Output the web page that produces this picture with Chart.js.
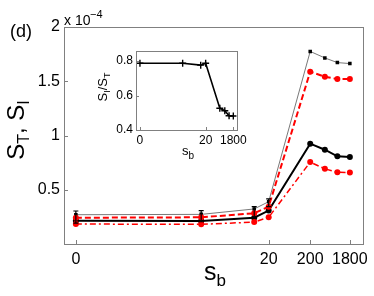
<!DOCTYPE html>
<html><head><meta charset="utf-8">
<script src="https://cdn.jsdelivr.net/npm/chart.js@4"></script>
<style>
html,body{margin:0;padding:0;background:#fff;}
#wrap{position:relative;width:374px;height:296px;overflow:hidden;background:#fff;}
#main{position:absolute;left:0;top:0;}
#inset{position:absolute;left:80px;top:40px;}
</style></head><body>
<div id="wrap"><canvas id="main" width="374" height="296"></canvas><canvas id="inset" width="170" height="125"></canvas></div>
<script>
// ---- data (values in units of 1e-4) ----
const sbValues = [0, 13, 18.5, 20, 200, 450, 900, 1800];
const xTickValues = [0, 20, 200, 1800];
const xTickLabels = ['0', '20', '200', '1800'];
const yTickValues = [0.5, 1, 1.5, 2];
const yTickLabels = ['0.5', '1', '1.5', '2'];
const sTthin = [0.27, 0.273, 0.323, 0.39, 1.775, 1.715, 1.672, 1.663];
const sTred = [0.242, 0.246, 0.283, 0.344, 1.588, 1.542, 1.52, 1.52];
const sIblack = [0.214, 0.212, 0.242, 0.308, 0.925, 0.869, 0.808, 0.801];
const sIred = [0.184, 0.181, 0.202, 0.246, 0.755, 0.693, 0.662, 0.659];
const errLow = [0.193, 0.205, 0.239, 0.344];
const errHigh = [0.304, 0.308, 0.344, 0.415];
const ratio = [0.787, 0.787, 0.776, 0.787, 0.526, 0.512, 0.483, 0.481];
const insetXTickValues = [0, 20, 1800];
const insetXTickLabels = ['0', '20', '1800'];
const insetYTickValues = [0.4, 0.6, 0.8];
const insetYTickLabels = ['0.4', '0.6', '0.8'];

// axis transform: linear up to 20, logarithmic beyond
function tx(s) { return s <= 20 ? s : 20 + 4.31 * Math.log10(s / 20); }

const FONT = 'Liberation Sans, Arial, Helvetica, sans-serif';
const AXC = '#808080';

function pts(vals) { return sbValues.map((s, i) => ({x: tx(s), y: vals[i]})); }

function drawRich(ctx, parts, x, y) {
  let w = 0;
  parts.forEach(p => { ctx.font = p.size + 'px ' + FONT; p.w = ctx.measureText(p.t).width; w += p.w; });
  let cx = x - w / 2;
  ctx.textBaseline = 'alphabetic'; ctx.textAlign = 'left';
  parts.forEach(p => { ctx.font = p.size + 'px ' + FONT; ctx.fillText(p.t, cx, y + (p.dy || 0)); cx += p.w; });
}

function frameAndTicks(chart, tickLen) {
  const {ctx, chartArea: a, scales} = chart;
  ctx.save();
  ctx.strokeStyle = AXC; ctx.lineWidth = 1;
  ctx.strokeRect(Math.round(a.left) + 0.5, Math.round(a.top) + 0.5, Math.round(a.right - a.left), Math.round(a.bottom - a.top));
  ctx.beginPath();
  scales.x.ticks.forEach(t => { const px = Math.round(scales.x.getPixelForValue(t.value)) + 0.5; ctx.moveTo(px, a.bottom); ctx.lineTo(px, a.bottom - tickLen); });
  scales.y.ticks.forEach(t => { const py = Math.round(scales.y.getPixelForValue(t.value)) + 0.5; ctx.moveTo(a.left, py); ctx.lineTo(a.left + tickLen, py); });
  ctx.stroke();
  ctx.restore();
}

const mainPlugin = {
  id: 'mainDeco',
  beforeDraw(chart) { const c = chart.ctx; c.save(); c.fillStyle = '#fff'; c.fillRect(0, 0, chart.width, chart.height); c.restore(); },
  afterDatasetsDraw(chart) {
    const {ctx, scales} = chart;
    ctx.save(); ctx.strokeStyle = '#000'; ctx.lineWidth = 1.2;
    errLow.forEach((lo, i) => {
      const px = scales.x.getPixelForValue(tx(sbValues[i]));
      const y1 = scales.y.getPixelForValue(lo), y2 = scales.y.getPixelForValue(errHigh[i]);
      ctx.beginPath(); ctx.moveTo(px, y1); ctx.lineTo(px, y2);
      ctx.moveTo(px - 2.5, y1); ctx.lineTo(px + 2.5, y1);
      ctx.moveTo(px - 2.5, y2); ctx.lineTo(px + 2.5, y2); ctx.stroke();
    });
    ctx.restore();
  },
  afterDraw(chart) {
    frameAndTicks(chart, 4);
    const ctx = chart.ctx;
    ctx.save(); ctx.fillStyle = '#000';
    drawRich(ctx, [{t: '(d)', size: 18}], 21, 37);
    ctx.textAlign = 'left';
    ctx.font = '14px ' + FONT; ctx.fillText('x 10', 64, 25);
    ctx.font = '11px ' + FONT; ctx.fillText('\u22124', 90, 18);
    drawRich(ctx, [{t: 's', size: 25}, {t: 'b', size: 17, dy: 6}], 215, 280);
    ctx.translate(24, 130); ctx.rotate(-Math.PI / 2);
    drawRich(ctx, [{t: 'S', size: 24}, {t: 'T', size: 16, dy: 5}, {t: ', S', size: 24}, {t: 'I', size: 16, dy: 5}], 0, 0);
    ctx.restore();
  }
};

const insetPlugin = {
  id: 'insetDeco',
  beforeDraw(chart) { const c = chart.ctx, a = chart.chartArea; c.save(); c.fillStyle = '#fff'; c.fillRect(a.left, a.top, a.right - a.left, a.bottom - a.top); c.restore(); },
  afterDraw(chart) {
    frameAndTicks(chart, 3);
    const ctx = chart.ctx;
    ctx.save(); ctx.fillStyle = '#000';
    drawRich(ctx, [{t: 's', size: 13}, {t: 'b', size: 10, dy: 4}], 108, 115);
    ctx.translate(27, 47); ctx.rotate(-Math.PI / 2);
    drawRich(ctx, [{t: 'S', size: 13}, {t: 'I', size: 9, dy: 3}, {t: '/S', size: 13}, {t: 'T', size: 9, dy: 3}], 0, 0);
    ctx.restore();
  }
};

new Chart(document.getElementById('main'), {
  type: 'line',
  data: {datasets: [
    {data: pts(sIred), borderColor: '#ff0000', backgroundColor: '#ff0000', borderWidth: 1.5, borderDash: [6, 3, 2, 3], pointRadius: 3, pointBorderWidth: 0, pointStyle: 'circle'},
    {data: pts(sTred), borderColor: '#ff0000', backgroundColor: '#ff0000', borderWidth: 2, borderDash: [6, 3], pointRadius: 3, pointBorderWidth: 0, pointStyle: 'circle'},
    {data: pts(sIblack), borderColor: '#000', backgroundColor: '#000', borderWidth: 2, pointRadius: 3, pointBorderWidth: 0, pointStyle: 'circle'},
    {data: pts(sTthin), borderColor: '#555', backgroundColor: '#000', borderWidth: 0.8, pointRadius: 2.5, pointBorderWidth: 0, pointStyle: 'rect'}
  ]},
  options: {
    responsive: false, animation: false, devicePixelRatio: 1,
    layout: {padding: {top: 27, right: 8, left: 0, bottom: 0}},
    plugins: {legend: {display: false}, tooltip: {enabled: false}},
    elements: {line: {tension: 0, fill: false}},
    scales: {
      x: {type: 'linear', min: -1.23, max: 29.74,
        grid: {display: false, drawTicks: false}, border: {display: false},
        ticks: {padding: 6, color: '#000', font: {family: FONT, size: 16}, autoSkip: false, maxRotation: 0,
          callback: (v, i) => xTickLabels[i]},
        afterBuildTicks: s => { s.ticks = xTickValues.map(v => ({value: tx(v)})); },
        afterFit: s => { s.height = 52; }},
      y: {type: 'linear', min: 0, max: 2,
        grid: {display: false, drawTicks: false}, border: {display: false},
        ticks: {padding: 4, color: '#000', font: {family: FONT, size: 16}, autoSkip: false,
          callback: (v, i) => yTickLabels[i]},
        afterBuildTicks: s => { s.ticks = yTickValues.map(v => ({value: v})); },
        afterFit: s => { s.width = 64; }}
    }
  },
  plugins: [mainPlugin]
});

new Chart(document.getElementById('inset'), {
  type: 'line',
  data: {datasets: [
    {data: pts(ratio), borderColor: '#000', backgroundColor: '#000', borderWidth: 1.6, pointRadius: 3.5, pointBorderWidth: 1.4, pointStyle: 'cross'}
  ]},
  options: {
    responsive: false, animation: false, devicePixelRatio: 1,
    layout: {padding: {top: 11, right: 10, left: 0, bottom: 0}},
    plugins: {legend: {display: false}, tooltip: {enabled: false}},
    elements: {line: {tension: 0, fill: false}},
    scales: {
      x: {type: 'linear', min: -1.2, max: 29.4,
        grid: {display: false, drawTicks: false}, border: {display: false},
        ticks: {padding: 3, color: '#000', font: {family: FONT, size: 12}, autoSkip: false, maxRotation: 0,
          callback: (v, i) => insetXTickLabels[i]},
        afterBuildTicks: s => { s.ticks = insetXTickValues.map(v => ({value: tx(v)})); },
        afterFit: s => { s.height = 35; }},
      y: {type: 'linear', min: 0.4, max: 0.858,
        grid: {display: false, drawTicks: false}, border: {display: false},
        ticks: {padding: 3, color: '#000', font: {family: FONT, size: 12}, autoSkip: false,
          callback: (v, i) => insetYTickLabels[i]},
        afterBuildTicks: s => { s.ticks = insetYTickValues.map(v => ({value: v})); },
        afterFit: s => { s.width = 56; }}
    }
  },
  plugins: [insetPlugin]
});
</script>
</body></html>
